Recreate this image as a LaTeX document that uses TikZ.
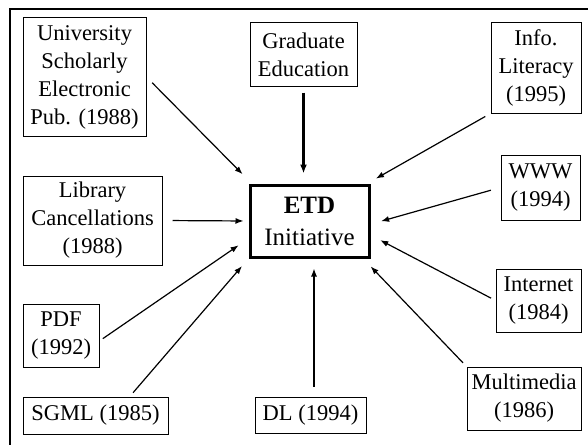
\documentclass[tikz,border=0pt]{standalone}
\usepackage{fontspec}
\setmainfont{Liberation Serif}
\usetikzlibrary{arrows.meta}
\begin{document}
\begin{tikzpicture}[x=1pt,y=-1pt,
  box/.style={draw, line width=1pt, inner sep=0pt, align=center,
    font=\fontsize{22.5}{28}\selectfont},
  arr/.style={line width=1.2pt, -{Latex[length=8pt,width=6pt]}},
  thickarr/.style={line width=2.6pt, -{Latex[length=9pt,width=7pt]}}]
\useasboundingbox (0,0) rectangle (588,444);
% outer frame (top and left edges)
\draw[line width=2.5pt] (10,446) -- (10,9) -- (590,9);

% central node
\node[box, line width=3pt, minimum width=119pt, minimum height=72pt,
  font=\fontsize{25}{32}\selectfont] (etd) at (309.5,221)
  {\textbf{ETD}\\Initiative};

% surrounding factors
\node[box, minimum width=123pt, minimum height=118pt] (univ) at (84.5,77)
  {University\\Scholarly\\Electronic\\Pub. (1988)};
\node[box, minimum width=107pt, minimum height=63pt] (grad) at (303.5,54.5)
  {Graduate\\Education};
\node[box, minimum width=90pt, minimum height=90pt] (info) at (536,68)
  {Info.\\Literacy\\(1995)};
\node[box, minimum width=79pt, minimum height=65pt] (www) at (540.5,187.5)
  {WWW\\(1994)};
\node[box, minimum width=139pt, minimum height=89pt] (lib) at (92.5,220.5)
  {Library\\Cancellations\\(1988)};
\node[box, minimum width=76pt, minimum height=63pt] (pdf) at (61,335.5)
  {PDF\\(1992)};
\node[box, minimum width=145pt, minimum height=37pt] (sgml) at (95.5,415.5)
  {SGML (1985)};
\node[box, minimum width=111pt, minimum height=36pt] (dl) at (310.5,415)
  {DL (1994)};
\node[box, minimum width=85pt, minimum height=63pt] (inet) at (538.5,300.5)
  {Internet\\(1984)};
\node[box, minimum width=114pt, minimum height=63pt] (mm) at (524,398.5)
  {Multimedia\\(1986)};

% influences pointing at the initiative
\draw[arr, shorten <=8pt, shorten >=13pt] (univ.east) -- (etd.147);
\draw[thickarr, shorten <=6pt, shorten >=10pt] (grad.south) -- (grad.south |- etd.north);
\draw[arr, shorten <=6pt, shorten >=10pt] (info.south west) -- (etd.33);
\draw[arr, shorten <=10pt, shorten >=11pt] (www.west) -- (etd.357);
\draw[arr, shorten <=10pt, shorten >=5pt] (lib.east) -- (etd.west);
\draw[arr, shorten <=4pt, shorten >=12pt] (pdf.352) -- (etd.196);
\draw[arr, shorten <=5pt, shorten >=10pt] (sgml.29) -- (etd.south west);
\draw[arr, shorten <=10pt, shorten >=10pt] ([xshift=3.5pt]dl.north) -- ([xshift=3.5pt]dl.north |- etd.south);
\draw[arr, shorten <=5pt, shorten >=11pt] (inet.west) -- (etd.347);
\draw[arr, shorten <=5pt, shorten >=11pt] (mm.north west) -- (etd.325);
\end{tikzpicture}
\end{document}
